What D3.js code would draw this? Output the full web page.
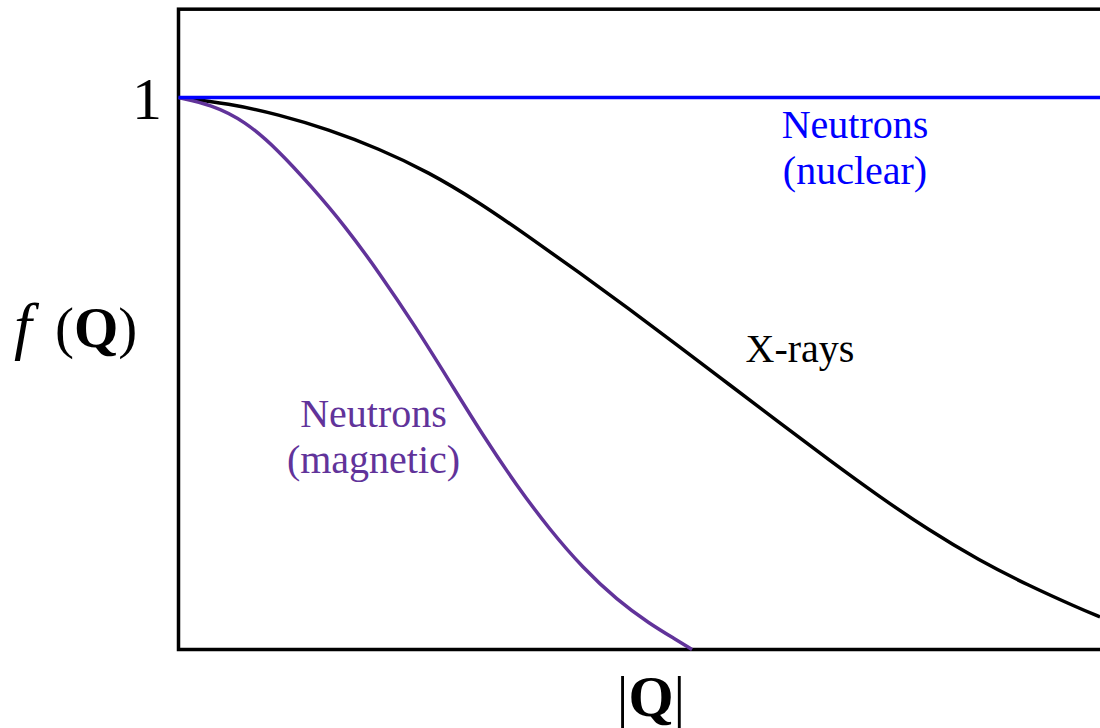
<!DOCTYPE html>
<html>
<head>
<meta charset="utf-8">
<script src="https://cdn.jsdelivr.net/npm/d3@7"></script>
<style>
  html, body { margin: 0; padding: 0; background: #fff; }
  svg { display: block; }
  text { font-family: "Liberation Serif", "Times New Roman", serif; }
</style>
</head>
<body>
<svg id="chart" width="1100" height="728"></svg>
<script>
// Scattering form factor f(Q) vs |Q| (arbitrary units, normalised to 1 at Q = 0)
const nuclearQ = [0, 1.05];
const nuclearF = [1, 1];

const xrayQ = [0, 0.0543, 0.1085, 0.1628, 0.2170, 0.2713, 0.3256, 0.3798, 0.4341, 0.4883,
               0.5426, 0.5969, 0.6511, 0.7054, 0.7596, 0.8139, 0.8681, 0.9224, 0.9767, 1.0];
const xrayF = [1, 0.9891, 0.9692, 0.9420, 0.9076, 0.8650, 0.8107, 0.7482, 0.6839, 0.6178,
               0.5498, 0.4810, 0.4121, 0.3442, 0.2781, 0.2165, 0.1621, 0.1159, 0.0752, 0.0589];

const magneticQ = [0, 0.0353, 0.0722, 0.1080, 0.1438, 0.1807, 0.2187, 0.2567, 0.2946, 0.3304,
                   0.3673, 0.4031, 0.4389, 0.4758, 0.5116, 0.5388, 0.5573];
const magneticF = [1, 0.9873, 0.9574, 0.9049, 0.8397, 0.7672, 0.6803, 0.5861, 0.4846, 0.3877,
                   0.2962, 0.2165, 0.1476, 0.0897, 0.0462, 0.0190, 0];

const colors = { nuclear: "#0000ff", xray: "#000000", magnetic: "#61339a" };

const svg = d3.select("#chart");
const x = d3.scaleLinear().domain([0, 1]).range([178.5, 1100]);
const y = d3.scaleLinear().domain([0, 1]).range([649.5, 97.5]);
const yTop = 1.16;

// Plot frame (right edge runs off the page)
svg.append("rect")
  .attr("x", x(0)).attr("y", y(yTop))
  .attr("width", x(1.05) - x(0)).attr("height", y(0) - y(yTop))
  .attr("fill", "none").attr("stroke", "#000").attr("stroke-width", 3.5);

const line = d3.line()
  .x(d => x(d[0])).y(d => y(d[1]))
  .curve(d3.curveBasis);

function drawSeries(qs, fs, color) {
  svg.append("path")
    .datum(d3.zip(qs, fs))
    .attr("d", line)
    .attr("fill", "none")
    .attr("stroke", color)
    .attr("stroke-width", 3.5)
    .attr("stroke-linecap", "butt");
}

drawSeries(xrayQ, xrayF, colors.xray);
drawSeries(magneticQ, magneticF, colors.magnetic);
drawSeries(nuclearQ, nuclearF, colors.nuclear);

// Tick label at f = 1
svg.append("text")
  .attr("x", 162).attr("y", y(1) + 21)
  .attr("text-anchor", "end")
  .attr("font-size", 60)
  .text("1");

// Axis titles
svg.append("text")
  .attr("x", 14).attr("y", 347)
  .attr("font-size", 64)
  .attr("font-style", "italic")
  .text("f");
const yl = svg.append("text")
  .attr("x", 55).attr("y", 347)
  .attr("font-size", 57);
yl.append("tspan").text("(");
yl.append("tspan").attr("font-weight", "bold").text("Q");
yl.append("tspan").text(")");

const xl = svg.append("text")
  .attr("x", 651).attr("y", 716)
  .attr("text-anchor", "middle")
  .attr("font-size", 58);
xl.append("tspan").text("|");
xl.append("tspan").attr("font-weight", "bold").text("Q");
xl.append("tspan").text("|");

// Curve labels
function label(lines, cx, baseline, color) {
  const t = svg.append("text")
    .attr("text-anchor", "middle")
    .attr("font-size", 40)
    .attr("fill", color);
  lines.forEach((s, i) => {
    t.append("tspan").attr("x", cx).attr("y", baseline + i * 46).text(s);
  });
}

label(["Neutrons", "(nuclear)"], 855, 138, colors.nuclear);
label(["X-rays"], 800, 362, colors.xray);
label(["Neutrons", "(magnetic)"], 373.5, 427, colors.magnetic);
</script>
</body>
</html>
